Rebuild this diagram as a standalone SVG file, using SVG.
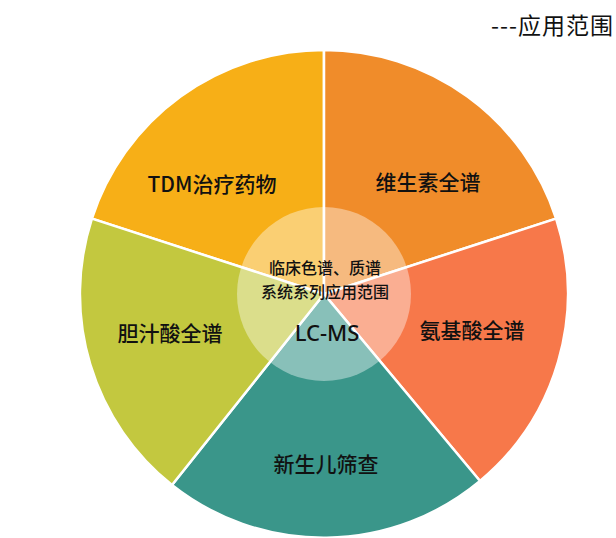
<svg xmlns="http://www.w3.org/2000/svg" width="616" height="538" viewBox="0 0 616 538">
<style>
.s{stroke:#fff;stroke-width:2.5}
.t{font-family:"Noto Sans CJK SC",sans-serif;fill:#111;text-anchor:middle;font-weight:500}
</style>
<rect width="616" height="538" fill="#fff"/>
<text x="614" y="34" class="t" style="text-anchor:end;font-size:23px;font-weight:400;letter-spacing:1px">---应用范围</text>
<g id="tdm"><path class="s" d="M324,294 L91.9,218.6 A244,244 0 0 1 324,50 Z" fill="#F7AF17"/><text class="t" x="212" y="192" font-size="21">TDM治疗药物</text></g>
<g id="vit"><path class="s" d="M324,294 L324,50 A244,244 0 0 1 556.1,218.6 Z" fill="#F08C2A"/><text class="t" x="428" y="190" font-size="21">维生素全谱</text></g>
<g id="amino"><path class="s" d="M324,294 L556.1,218.6 A244,244 0 0 1 480,481 Z" fill="#F7784A"/><text class="t" x="472" y="338" font-size="21">氨基酸全谱</text></g>
<g id="newborn"><path class="s" d="M324,294 L480,481 A244,244 0 0 1 172,485 Z" fill="#3A968A"/><text class="t" x="326" y="472" font-size="21">新生儿筛查</text></g>
<g id="bile"><path class="s" d="M324,294 L172,485 A244,244 0 0 1 91.9,218.6 Z" fill="#C3C83F"/><text class="t" x="170" y="341" font-size="21">胆汁酸全谱</text></g>
<g id="center"><circle cx="324" cy="294" r="87" fill="#fff" fill-opacity="0.4"/>
<text class="t" x="325" y="274" font-size="16">临床色谱、质谱</text>
<text class="t" x="325" y="298" font-size="16">系统系列应用范围</text>
<text class="t" x="327" y="341" font-size="22" style="font-family:'Noto Sans',sans-serif">LC-MS</text></g>
<g id="connectors"></g>
</svg>
